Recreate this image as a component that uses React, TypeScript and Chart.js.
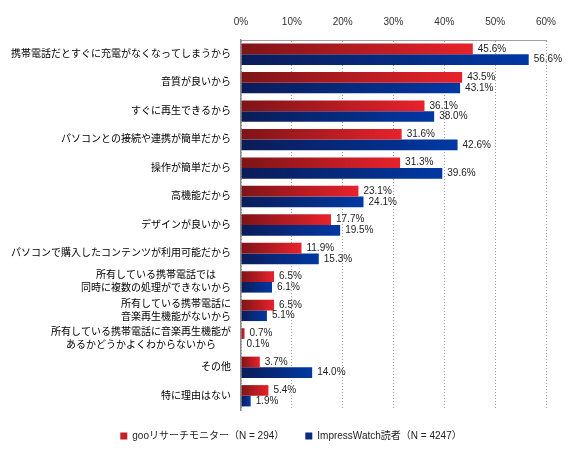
import React, { useEffect, useRef } from "react";
import { Chart, registerables } from "chart.js";

Chart.register(...registerables);

const categories: string[][] = [
  ["携帯電話だとすぐに充電がなくなってしまうから"],
  ["音質が良いから"],
  ["すぐに再生できるから"],
  ["パソコンとの接続や連携が簡単だから"],
  ["操作が簡単だから"],
  ["高機能だから"],
  ["デザインが良いから"],
  ["パソコンで購入したコンテンツが利用可能だから"],
  ["所有している携帯電話では", "同時に複数の処理ができないから"],
  ["所有している携帯電話に", "音楽再生機能がないから"],
  ["所有している携帯電話に音楽再生機能が", "あるかどうかよくわからないから"],
  ["その他"],
  ["特に理由はない"],
];

const gooValues = [45.6, 43.5, 36.1, 31.6, 31.3, 23.1, 17.7, 11.9, 6.5, 6.5, 0.7, 3.7, 5.4];
const impressValues = [56.6, 43.1, 38.0, 42.6, 39.6, 24.1, 19.5, 15.3, 6.1, 5.1, 0.1, 14.0, 1.9];

const seriesNames = ["gooリサーチモニター（N = 294）", "ImpressWatch読者（N = 4247）"];

const FONT = '"Liberation Sans", "Noto Sans CJK JP", sans-serif';

function gradientFill(dark: string, light: string) {
  return (ctx: any) => {
    const chart = ctx.chart;
    const xs = chart.scales && chart.scales.x;
    if (!xs || ctx.type !== "data") return light;
    const v = ctx.raw as number;
    const x0 = xs.getPixelForValue(0);
    const x1 = xs.getPixelForValue(v);
    if (!isFinite(x0) || !isFinite(x1) || x1 - x0 < 1) return light;
    const g = chart.ctx.createLinearGradient(x0, 0, x1, 0);
    g.addColorStop(0, dark);
    g.addColorStop(1, light);
    return g;
  };
}

const yLabelPlugin = {
  id: "yLabels",
  afterDraw(chart: any) {
    const ys = chart.scales.y;
    const ctx = chart.ctx;
    ctx.save();
    ctx.font = `10px ${FONT}`;
    ctx.fillStyle = "#000";
    ctx.textBaseline = "middle";
    ctx.textAlign = "center";
    const right = ys.right - 10;
    const lh = 13;
    categories.forEach((lines, i) => {
      const w = Math.max(...lines.map((l) => ctx.measureText(l).width));
      const cx = right - w / 2;
      const y = ys.getPixelForValue(i);
      lines.forEach((l, j) => {
        ctx.fillText(l, cx, y + (j - (lines.length - 1) / 2) * lh);
      });
    });
    ctx.restore();
  },
};

const valueLabelPlugin = {
  id: "valueLabels",
  afterDatasetsDraw(chart: any) {
    const ctx = chart.ctx;
    ctx.save();
    ctx.font = `10px ${FONT}`;
    ctx.fillStyle = "#222";
    ctx.textBaseline = "middle";
    ctx.textAlign = "left";
    chart.data.datasets.forEach((ds: any, di: number) => {
      const meta = chart.getDatasetMeta(di);
      meta.data.forEach((el: any, i: number) => {
        const v = ds.data[i] as number;
        ctx.fillText(v.toFixed(1) + "%", el.x + 5, el.y);
      });
    });
    ctx.restore();
  },
};

export default function App() {
  const ref = useRef<HTMLCanvasElement | null>(null);

  useEffect(() => {
    document.body.style.margin = "0";
    const canvas = ref.current;
    if (!canvas) return;
    const legendColors = ["#c41e26", "#0a2a85"];
    const chart = new Chart(canvas, {
      type: "bar",
      data: {
        labels: categories.map((c) => c.join("")),
        datasets: [
          {
            label: seriesNames[0],
            data: gooValues,
            backgroundColor: gradientFill("#7e1417", "#e8222b"),
            borderWidth: 0,
          },
          {
            label: seriesNames[1],
            data: impressValues,
            backgroundColor: gradientFill("#0b1c58", "#0038a3"),
            borderWidth: 0,
          },
        ],
      },
      options: {
        indexAxis: "y",
        responsive: false,
        animation: false,
        layout: { padding: { left: 36, right: 23, top: 0, bottom: 4 } },
        datasets: { bar: { categoryPercentage: 0.75, barPercentage: 1 } },
        scales: {
          x: {
            position: "top",
            min: 0,
            max: 60,
            ticks: {
              stepSize: 10,
              callback: (v: any) => v + "%",
              font: { family: FONT, size: 10 },
              color: "#333",
              padding: 12,
            },
            grid: { color: "#9a9a9a", drawTicks: false, lineWidth: 1 },
            border: { display: true, color: "#a0a0a0", width: 1, dash: [1, 2] },
            afterFit: (s: any) => {
              s.height = 40;
            },
          },
          y: {
            ticks: { display: false },
            grid: { display: false },
            border: { display: true, color: "#8a8a8a", width: 1.5 },
            afterFit: (s: any) => {
              s.width = 205;
            },
          },
        },
        plugins: {
          legend: {
            position: "bottom",
            labels: {
              boxWidth: 7,
              boxHeight: 7,
              padding: 21,
              color: "#222",
              font: { family: FONT, size: 10 },
              generateLabels: (c: any) =>
                c.data.datasets.map((ds: any, i: number) => ({
                  text: ds.label,
                  fillStyle: legendColors[i],
                  strokeStyle: legendColors[i],
                  lineWidth: 0,
                  hidden: false,
                  datasetIndex: i,
                  fontColor: "#222",
                })),
            },
          },
          tooltip: { enabled: false },
        },
      },
      plugins: [yLabelPlugin, valueLabelPlugin],
    } as any);
    return () => chart.destroy();
  }, []);

  return <canvas ref={ref} width={569} height={455} style={{ display: "block" }} />;
}
